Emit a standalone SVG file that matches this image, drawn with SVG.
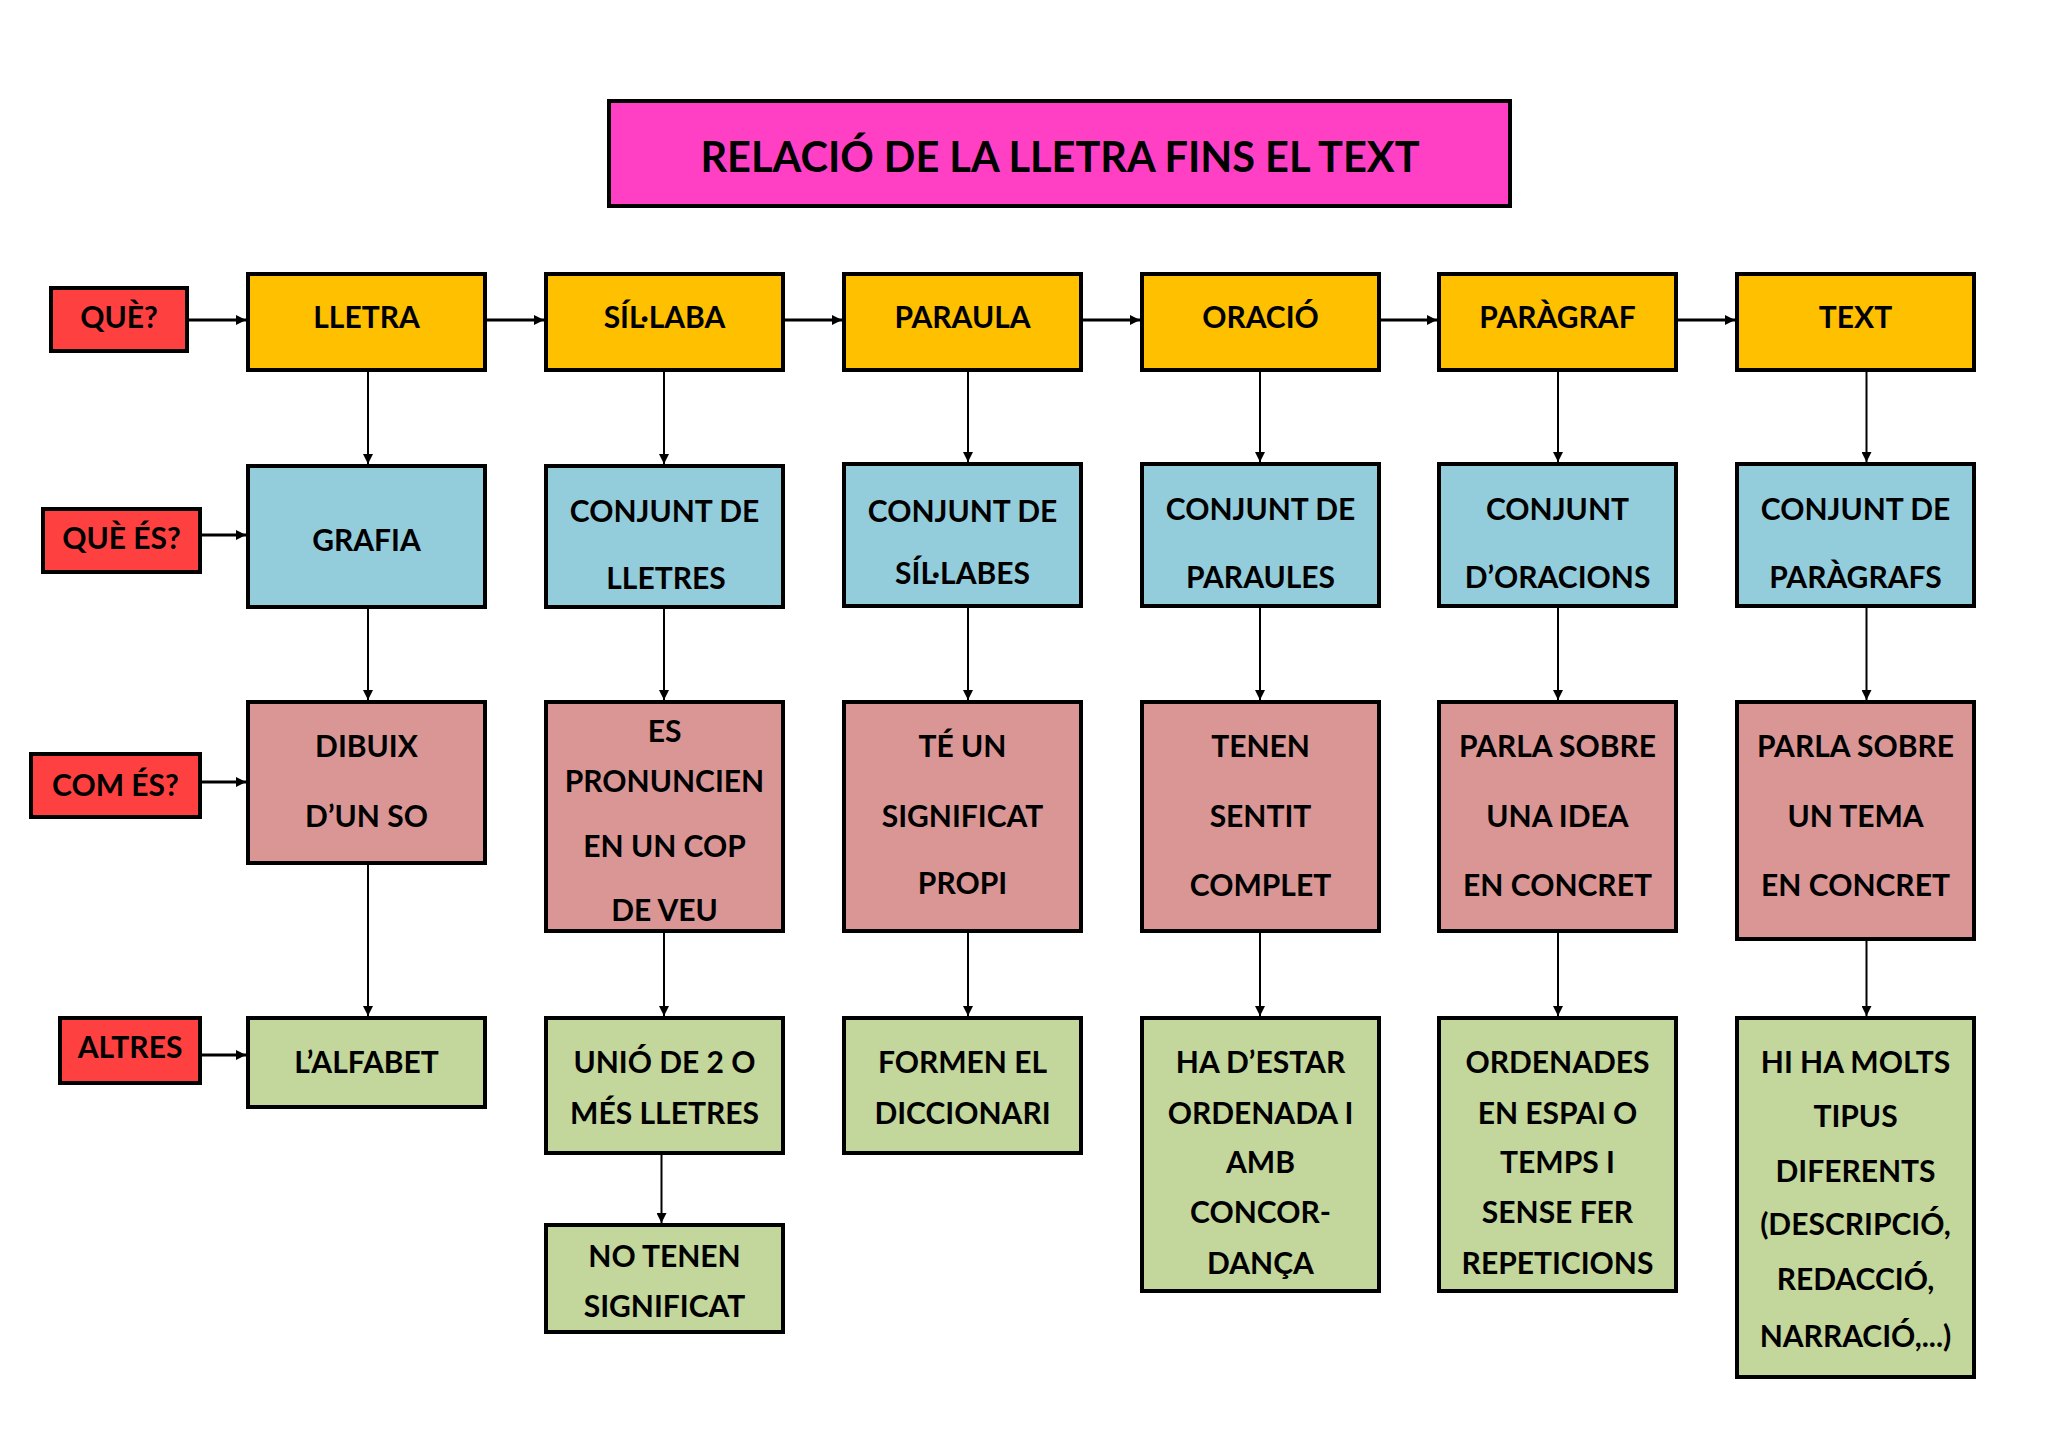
<svg xmlns="http://www.w3.org/2000/svg" width="2048" height="1448" viewBox="0 0 2048 1448">
<style>
.box{stroke:#000;stroke-width:4}
.title{fill:#FF40C4}
.red{fill:#FF4040}
.yel{fill:#FFC000}
.blu{fill:#93CDDC}
.pnk{fill:#D99694}
.grn{fill:#C3D69B}
text{font-family:Lato,"Open Sans","Liberation Sans",sans-serif;font-weight:bold;font-size:30px;fill:#000;text-anchor:middle}
.tt{font-size:41.5px}
.h{stroke:#000;stroke-width:3;fill:none}
.v{stroke:#000;stroke-width:2;fill:none}
</style>
<defs>
<marker id="ah" markerUnits="userSpaceOnUse" markerWidth="10" markerHeight="10" refX="10" refY="5" orient="auto" viewBox="0 0 10 10">
<path d="M0,0 L10,5 L0,10 z" fill="#000"/>
</marker>
</defs>
<rect width="2048" height="1448" fill="#fff"/>

<g id="title"><rect class="box title" x="609" y="101" width="901" height="105"/><text class="tt" x="1060" y="172">RELACIÓ DE LA LLETRA FINS EL TEXT</text></g>

<g id="q1"><rect class="box red" x="51" y="288" width="136" height="63"/><text x="119" y="328">QUÈ?</text></g>
<g id="q2"><rect class="box red" x="43" y="509" width="157" height="63"/><text x="121.5" y="549">QUÈ ÉS?</text></g>
<g id="q3"><rect class="box red" x="31" y="754" width="169" height="63"/><text x="115.5" y="796">COM ÉS?</text></g>
<g id="q4"><rect class="box red" x="60" y="1018" width="140" height="65"/><text x="130" y="1058">ALTRES</text></g>

<g id="lletra"><rect class="box yel" x="248" y="274" width="237" height="96"/><text x="366.5" y="328">LLETRA</text></g>
<g id="sillaba"><rect class="box yel" x="546" y="274" width="237" height="96"/><text x="664.5" y="328">SÍL·LABA</text></g>
<g id="paraula"><rect class="box yel" x="844" y="274" width="237" height="96"/><text x="962.5" y="328">PARAULA</text></g>
<g id="oracio"><rect class="box yel" x="1142" y="274" width="237" height="96"/><text x="1260.5" y="328">ORACIÓ</text></g>
<g id="paragraf"><rect class="box yel" x="1439" y="274" width="237" height="96"/><text x="1557.5" y="328">PARÀGRAF</text></g>
<g id="text"><rect class="box yel" x="1737" y="274" width="237" height="96"/><text x="1855.5" y="328">TEXT</text></g>

<g id="grafia"><rect class="box blu" x="248" y="466" width="237" height="141"/><text x="366.5" y="551">GRAFIA</text></g>
<g id="conj-lletres"><rect class="box blu" x="546" y="466" width="237" height="141"/><text x="664.5" y="522">CONJUNT DE</text><text x="666" y="589">LLETRES</text></g>
<g id="conj-sillabes"><rect class="box blu" x="844" y="464" width="237" height="142"/><text x="962.5" y="522">CONJUNT DE</text><text x="962.5" y="584">SÍL·LABES</text></g>
<g id="conj-paraules"><rect class="box blu" x="1142" y="464" width="237" height="142"/><text x="1260.5" y="520">CONJUNT DE</text><text x="1260.5" y="588">PARAULES</text></g>
<g id="conj-oracions"><rect class="box blu" x="1439" y="464" width="237" height="142"/><text x="1557.5" y="520">CONJUNT</text><text x="1557.5" y="588">D’ORACIONS</text></g>
<g id="conj-paragrafs"><rect class="box blu" x="1737" y="464" width="237" height="142"/><text x="1855.5" y="520">CONJUNT DE</text><text x="1855.5" y="588">PARÀGRAFS</text></g>

<g id="dibuix"><rect class="box pnk" x="248" y="702" width="237" height="161"/><text x="366.5" y="757">DIBUIX</text><text x="366.5" y="827">D’UN SO</text></g>
<g id="pronuncien"><rect class="box pnk" x="546" y="702" width="237" height="229"/><text x="664.5" y="742">ES</text><text x="664.5" y="792">PRONUNCIEN</text><text x="664.5" y="857">EN UN COP</text><text x="664.5" y="921">DE VEU</text></g>
<g id="significat"><rect class="box pnk" x="844" y="702" width="237" height="229"/><text x="962.5" y="757">TÉ UN</text><text x="962.5" y="827">SIGNIFICAT</text><text x="962.5" y="894">PROPI</text></g>
<g id="sentit"><rect class="box pnk" x="1142" y="702" width="237" height="229"/><text x="1260.5" y="757">TENEN</text><text x="1260.5" y="827">SENTIT</text><text x="1260.5" y="896">COMPLET</text></g>
<g id="idea"><rect class="box pnk" x="1439" y="702" width="237" height="229"/><text x="1557.5" y="757">PARLA SOBRE</text><text x="1557.5" y="827">UNA IDEA</text><text x="1557.5" y="896">EN CONCRET</text></g>
<g id="tema"><rect class="box pnk" x="1737" y="702" width="237" height="237"/><text x="1855.5" y="757">PARLA SOBRE</text><text x="1855.5" y="827">UN TEMA</text><text x="1855.5" y="896">EN CONCRET</text></g>

<g id="alfabet"><rect class="box grn" x="248" y="1018" width="237" height="89"/><text x="366.5" y="1073">L’ALFABET</text></g>
<g id="unio"><rect class="box grn" x="546" y="1018" width="237" height="135"/><text x="664.5" y="1073">UNIÓ DE 2 O</text><text x="664.5" y="1124">MÉS LLETRES</text></g>
<g id="diccionari"><rect class="box grn" x="844" y="1018" width="237" height="135"/><text x="962.5" y="1073">FORMEN EL</text><text x="962.5" y="1124">DICCIONARI</text></g>
<g id="ordenada"><rect class="box grn" x="1142" y="1018" width="237" height="273"/><text x="1260.5" y="1073">HA D’ESTAR</text><text x="1260.5" y="1124">ORDENADA I</text><text x="1260.5" y="1173">AMB</text><text x="1260.5" y="1223">CONCOR-</text><text x="1260.5" y="1274">DANÇA</text></g>
<g id="ordenades"><rect class="box grn" x="1439" y="1018" width="237" height="273"/><text x="1557.5" y="1073">ORDENADES</text><text x="1557.5" y="1124">EN ESPAI O</text><text x="1557.5" y="1173">TEMPS I</text><text x="1557.5" y="1223">SENSE FER</text><text x="1557.5" y="1274">REPETICIONS</text></g>
<g id="tipus"><rect class="box grn" x="1737" y="1018" width="237" height="359"/><text x="1855.5" y="1073">HI HA MOLTS</text><text x="1855.5" y="1127">TIPUS</text><text x="1855.5" y="1182">DIFERENTS</text><text x="1855.5" y="1235">(DESCRIPCIÓ,</text><text x="1855.5" y="1290">REDACCIÓ,</text><text x="1855.5" y="1347">NARRACIÓ,...)</text></g>
<g id="no-tenen"><rect class="box grn" x="546" y="1225" width="237" height="107"/><text x="664.5" y="1267">NO TENEN</text><text x="664.5" y="1317">SIGNIFICAT</text></g>

<g id="connectors">
<line class="h" x1="189" y1="320" x2="246" y2="320" marker-end="url(#ah)"/>
<line class="h" x1="487" y1="320" x2="544" y2="320" marker-end="url(#ah)"/>
<line class="h" x1="785" y1="320" x2="842" y2="320" marker-end="url(#ah)"/>
<line class="h" x1="1083" y1="320" x2="1140" y2="320" marker-end="url(#ah)"/>
<line class="h" x1="1381" y1="320" x2="1437" y2="320" marker-end="url(#ah)"/>
<line class="h" x1="1678" y1="320" x2="1735" y2="320" marker-end="url(#ah)"/>
<line class="h" x1="202" y1="535" x2="246" y2="535" marker-end="url(#ah)"/>
<line class="h" x1="202" y1="782" x2="246" y2="782" marker-end="url(#ah)"/>
<line class="h" x1="202" y1="1055" x2="246" y2="1055" marker-end="url(#ah)"/>

<line class="v" x1="368" y1="372" x2="368" y2="464" marker-end="url(#ah)"/>
<line class="v" x1="368" y1="609" x2="368" y2="700" marker-end="url(#ah)"/>
<line class="v" x1="368" y1="865" x2="368" y2="1016" marker-end="url(#ah)"/>

<line class="v" x1="664" y1="372" x2="664" y2="464" marker-end="url(#ah)"/>
<line class="v" x1="664" y1="609" x2="664" y2="700" marker-end="url(#ah)"/>
<line class="v" x1="664" y1="933" x2="664" y2="1016" marker-end="url(#ah)"/>
<line class="v" x1="661.5" y1="1155" x2="661.5" y2="1223" marker-end="url(#ah)"/>

<line class="v" x1="968" y1="372" x2="968" y2="462" marker-end="url(#ah)"/>
<line class="v" x1="968" y1="608" x2="968" y2="700" marker-end="url(#ah)"/>
<line class="v" x1="968" y1="933" x2="968" y2="1016" marker-end="url(#ah)"/>

<line class="v" x1="1260" y1="372" x2="1260" y2="462" marker-end="url(#ah)"/>
<line class="v" x1="1260" y1="608" x2="1260" y2="700" marker-end="url(#ah)"/>
<line class="v" x1="1260" y1="933" x2="1260" y2="1016" marker-end="url(#ah)"/>

<line class="v" x1="1558" y1="372" x2="1558" y2="462" marker-end="url(#ah)"/>
<line class="v" x1="1558" y1="608" x2="1558" y2="700" marker-end="url(#ah)"/>
<line class="v" x1="1558" y1="933" x2="1558" y2="1016" marker-end="url(#ah)"/>

<line class="v" x1="1866.5" y1="372" x2="1866.5" y2="462" marker-end="url(#ah)"/>
<line class="v" x1="1866.5" y1="608" x2="1866.5" y2="700" marker-end="url(#ah)"/>
<line class="v" x1="1866.5" y1="941" x2="1866.5" y2="1016" marker-end="url(#ah)"/>
</g>
</svg>
